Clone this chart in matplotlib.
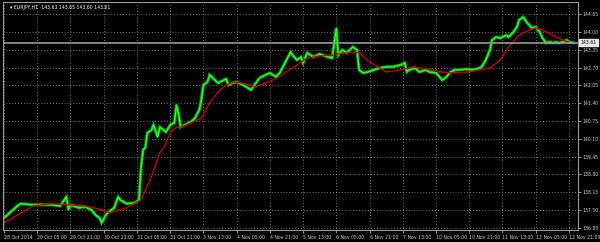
import matplotlib
matplotlib.use("Agg")
import matplotlib.pyplot as plt

# EURJPY H1, bars counted from 28 Oct 2014 13:00
close_bar = [0, 6, 8, 14, 23, 27, 30, 31, 32, 36, 39, 42, 44, 46, 47, 49, 50, 53, 55, 56,
             59, 63, 65, 66, 67, 68, 69, 71, 72, 74, 75, 78, 80, 82, 83, 84, 85, 87, 90, 92,
             94, 95, 96, 98, 99, 101, 103, 104, 107, 108, 110, 112, 115, 119, 120, 123, 126, 128, 131, 133,
             136, 138, 139, 141, 143, 144, 146, 149, 152, 156, 158, 159, 160, 161, 163, 165, 168, 170, 171, 173,
             175, 178, 181, 184, 187, 191, 193, 194, 195, 198, 200, 203, 205, 208, 211, 213, 215, 217, 219, 223,
             226, 229, 230, 232, 234, 235, 237, 239, 240, 242, 243, 245, 247, 248, 250, 252, 253, 254, 256, 258,
             259, 261, 263, 264, 266, 267, 269, 271, 272, 274]
close_price = [137.21, 137.62, 137.73, 137.69, 137.69, 137.65, 137.98, 137.51, 137.69, 137.58,
               137.62, 137.51, 137.32, 137.21, 137.03, 137.32, 137.40, 137.58, 137.98, 137.87,
               137.73, 137.76, 137.87, 139.08, 139.70, 139.77, 140.32, 140.42, 140.61, 140.17,
               140.53, 140.35, 140.61, 140.68, 141.34, 141.05, 140.53, 140.61, 140.72, 140.86,
               141.16, 141.52, 142.07, 142.18, 142.44, 142.29, 142.14, 142.18, 142.29, 142.07,
               142.14, 142.18, 142.07, 141.89, 142.00, 142.32, 142.44, 142.51, 142.36, 142.54,
               142.98, 143.27, 143.16, 142.98, 143.09, 142.87, 143.24, 143.09, 143.20, 143.09,
               143.05, 143.60, 144.15, 143.16, 143.35, 143.24, 143.46, 143.35, 142.62, 142.51,
               142.54, 142.62, 142.69, 142.73, 142.73, 142.80, 142.87, 142.54, 142.62, 142.69,
               142.54, 142.62, 142.54, 142.51, 142.25, 142.36, 142.54, 142.62, 142.62, 142.65,
               142.62, 142.69, 142.73, 142.98, 143.35, 143.71, 143.82, 143.78, 143.82, 143.89,
               143.82, 143.97, 144.19, 144.44, 144.55, 144.33, 144.26, 144.15, 144.19, 144.00,
               143.82, 143.60, 143.64, 143.60, 143.64, 143.60, 143.64, 143.71, 143.64, 143.61]

ma_bar = [0, 14, 23, 32, 39, 47, 51, 59, 66, 71, 75, 77, 80, 83, 85, 90, 95, 99, 103, 107,
          111, 116, 121, 126, 131, 135, 140, 145, 149, 152, 158, 165, 169, 171, 176, 181, 184, 191, 197, 204,
          210, 216, 223, 229, 234, 239, 243, 248, 253, 256, 259, 264, 269, 272]
ma_price = [137.03, 137.65, 137.73, 137.69, 137.65, 137.51, 137.40, 137.58, 137.87, 138.71,
            139.59, 139.77, 140.32, 140.53, 140.53, 140.68, 140.86, 141.41, 141.81, 142.07,
            142.18, 142.11, 142.00, 142.14, 142.29, 142.51, 142.73, 143.01, 143.09, 143.13,
            143.16, 143.24, 143.27, 143.24, 142.91, 142.69, 142.54, 142.62, 142.73, 142.65,
            142.54, 142.51, 142.54, 142.62, 142.69, 142.98, 143.46, 143.89, 144.08, 144.15,
            144.08, 143.89, 143.71, 143.64]

x_ticks = [0, 16, 32, 48, 64, 80, 96, 112, 128, 144, 160, 176, 192, 208, 224, 240, 256, 272]
x_labels = ["28 Oct 2014", "29 Oct 05:00", "29 Oct 21:00", "30 Oct 13:00", "31 Oct 05:00",
            "31 Oct 21:00", "3 Nov 13:00", "4 Nov 05:00", "4 Nov 21:00", "5 Nov 13:00",
            "6 Nov 05:00", "6 Nov 21:00", "7 Nov 13:00", "10 Nov 05:00", "10 Nov 21:00",
            "11 Nov 13:00", "12 Nov 05:00", "12 Nov 21:00"]
y_ticks = [136.85, 137.50, 138.15, 138.80, 139.45, 140.10, 140.75,
           141.40, 142.05, 142.70, 143.35, 144.00, 144.65]
last_price = 143.61
title = "EURJPY,H1  143.63 143.65 143.60 143.61"

fig = plt.figure(figsize=(6, 2.42), dpi=100, facecolor="black")
ax = fig.add_axes([3 / 600, 1 - 230 / 242, 575 / 600, 228 / 242])
ax.set_facecolor("black")

ax.plot(close_bar, close_price, color="#00a800", lw=2.2, solid_joinstyle="miter")
ax.plot(close_bar, close_price, color="#22ff22", lw=1.0)
ax.plot(ma_bar, ma_price, color="#c80000", lw=1.0)
ax.axhline(last_price, color="#9a9a9a", lw=1.2)

ax.set_xlim(-0.5, 276.4)
ax.set_ylim(136.77, 145.10)

ax.set_xticks(x_ticks)
ax.set_xticklabels(x_labels, ha="left")
ax.set_yticks(y_ticks)
ax.set_yticklabels(["%.2f" % v for v in y_ticks])
ax.yaxis.tick_right()
ax.tick_params(colors="#d0d0d0", labelsize=3.3, length=2, width=0.5, pad=1)
ax.tick_params(axis="x", pad=1.5)

ax.grid(True, color="#a0a0a0", lw=0.6, linestyle=(0, (1, 2.5)))
for s in ax.spines.values():
    s.set_color("#9a9a9a")
    s.set_linewidth(0.8)

ax.text(0.012, 0.985, "\u25be " + title, transform=ax.transAxes, color="white",
        fontsize=3.3, va="top", ha="left")
ax.text(1.004, last_price, "%.2f" % last_price, transform=ax.get_yaxis_transform(),
        color="black", fontsize=3.3, va="center", ha="left",
        bbox=dict(boxstyle="square,pad=0.25", fc="#e8e8e8", ec="#e8e8e8"))

fig.savefig("out.png", dpi=100, facecolor=fig.get_facecolor())
